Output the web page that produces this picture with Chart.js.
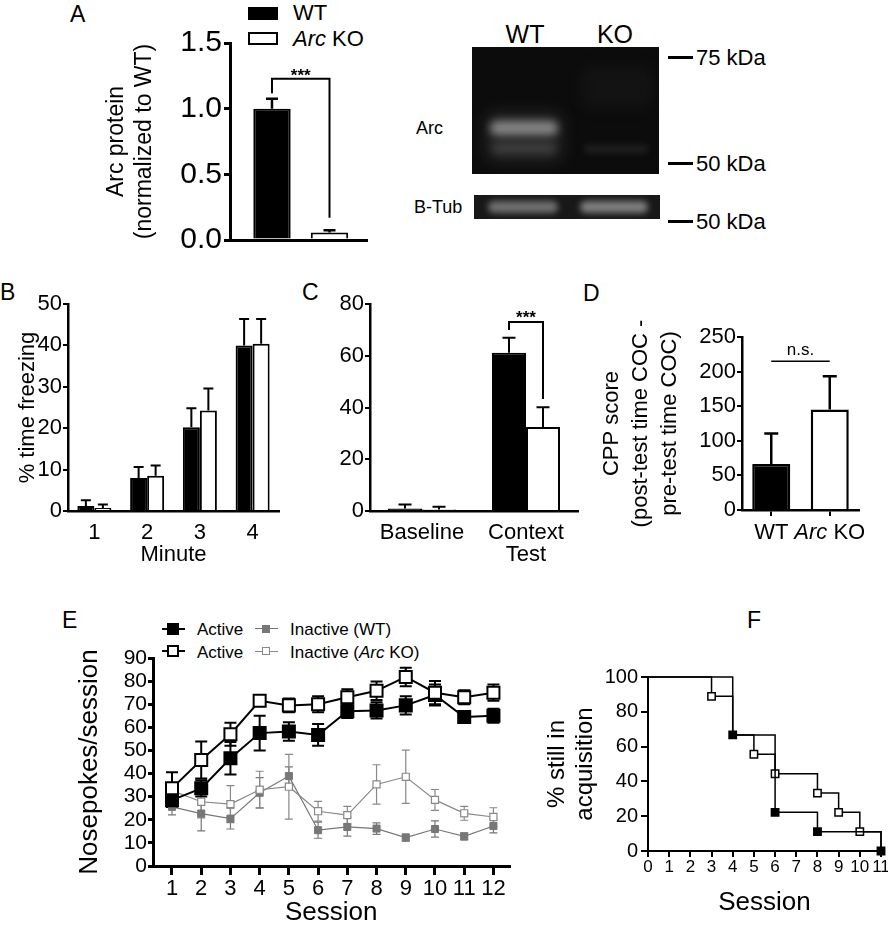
<!DOCTYPE html>
<html><head><meta charset="utf-8">
<script src="https://cdn.jsdelivr.net/npm/chart.js@4.4.1/dist/chart.umd.min.js"></script>
<style>
html,body{margin:0;padding:0;background:#fff;width:888px;height:926px;overflow:hidden;font-family:'Liberation Sans',Arial,sans-serif;}
#page{position:relative;width:888px;height:926px;overflow:hidden;}
canvas{position:absolute;}
.t{position:absolute;white-space:nowrap;color:#000;line-height:1;}
.c{transform:translate(-50%,-50%);}
.m{transform:translateY(-50%);}
.blot{position:absolute;overflow:hidden;}
.band{position:absolute;border-radius:8px;}
</style></head>
<body><div id="page">
<!-- panel letters -->
<div class="t" style="left:70px;top:3px;font-size:23px">A</div>
<div class="t" style="left:0px;top:281px;font-size:23px">B</div>
<div class="t" style="left:302px;top:281px;font-size:23px">C</div>
<div class="t" style="left:583px;top:282px;font-size:23px">D</div>
<div class="t" style="left:62px;top:609px;font-size:23px">E</div>
<div class="t" style="left:747px;top:609px;font-size:23px">F</div>

<!-- legend A -->
<div style="position:absolute;left:248px;top:7px;width:30px;height:13px;background:#000"></div>
<div style="position:absolute;left:248px;top:32px;width:26px;height:9px;border:2px solid #000;background:#fff"></div>
<div class="t m" style="left:293px;top:13px;font-size:22px">WT</div>
<div class="t m" style="left:293px;top:39px;font-size:22px"><i>Arc</i> KO</div>

<!-- western blot -->
<div class="t c" style="left:525px;top:34px;font-size:25px">WT</div>
<div class="t c" style="left:615px;top:34px;font-size:25px">KO</div>
<div class="blot" style="left:472px;top:47px;width:187px;height:127px;background:#0c0c0c">
  <div class="band" style="left:14px;top:66px;width:76px;height:48px;background:rgba(100,100,100,.3);filter:blur(8px)"></div>
  <div class="band" style="left:18px;top:74px;width:68px;height:14px;background:rgba(165,165,165,.75);filter:blur(4px)"></div>
  <div class="band" style="left:20px;top:97px;width:64px;height:9px;background:rgba(120,120,120,.35);filter:blur(4px)"></div>
  <div class="band" style="left:112px;top:98px;width:64px;height:8px;background:rgba(110,110,110,.2);filter:blur(3px)"></div>
  <div class="band" style="left:110px;top:20px;width:70px;height:40px;background:rgba(90,90,90,.1);filter:blur(8px)"></div>
</div>
<div class="blot" style="left:474px;top:195px;width:186px;height:24px;background:#181818">
  <div class="band" style="left:14px;top:6px;width:70px;height:12px;background:rgba(150,150,150,.7);filter:blur(3px)"></div>
  <div class="band" style="left:106px;top:6px;width:68px;height:12px;background:rgba(160,160,160,.75);filter:blur(3px)"></div>
</div>
<div class="t m" style="left:416px;top:128px;font-size:18px">Arc</div>
<div class="t m" style="left:414px;top:207px;font-size:18px">B-Tub</div>
<div style="position:absolute;left:668px;top:56px;width:25px;height:3px;background:#000"></div>
<div class="t m" style="left:696px;top:58px;font-size:22px">75 kDa</div>
<div style="position:absolute;left:668px;top:162px;width:25px;height:3px;background:#000"></div>
<div class="t m" style="left:696px;top:164px;font-size:22px">50 kDa</div>
<div style="position:absolute;left:668px;top:220px;width:25px;height:3px;background:#000"></div>
<div class="t m" style="left:696px;top:222px;font-size:22px">50 kDa</div>

<!-- legend E -->
<div style="position:absolute;left:162px;top:628px;width:23px;height:2px;background:#000"></div>
<div style="position:absolute;left:167px;top:623px;width:12px;height:12px;background:#000"></div>
<div class="t m" style="left:197px;top:629px;font-size:17px">Active</div>
<div style="position:absolute;left:162px;top:650px;width:23px;height:2px;background:#000"></div>
<div style="position:absolute;left:167px;top:645px;width:8px;height:8px;border:2px solid #000;background:#fff"></div>
<div class="t m" style="left:197px;top:652px;font-size:17px">Active</div>
<div style="position:absolute;left:255px;top:628px;width:23px;height:1px;background:#777"></div>
<div style="position:absolute;left:262px;top:625px;width:8px;height:8px;background:#777"></div>
<div class="t m" style="left:290px;top:629px;font-size:17px">Inactive (WT)</div>
<div style="position:absolute;left:255px;top:651px;width:23px;height:1px;background:#888"></div>
<div style="position:absolute;left:262px;top:647px;width:6px;height:6px;border:1px solid #888;background:#fff"></div>
<div class="t m" style="left:290px;top:652px;font-size:17px">Inactive (<i>Arc</i> KO)</div>

<canvas id="cA"></canvas><canvas id="cB"></canvas><canvas id="cC"></canvas>
<canvas id="cD"></canvas><canvas id="cE"></canvas><canvas id="cF"></canvas>
</div>
<script>
// ---------------- DATA ----------------
const aCats = ['WT', 'Arc KO'];
const aVals = [1.0, 0.057];
const aErr = [0.076, 0.018];

const bCats = ['1', '2', '3', '4'];
const bWT = [1.2, 8.0, 20.2, 40.0];
const bWTerr = [1.4, 2.6, 4.6, 6.4];
const bKO = [0.7, 8.5, 24.3, 40.4];
const bKOerr = [0.9, 2.5, 5.3, 6.0];

const cCats = ['Baseline', ['Context', 'Test']];
const cWT = [1.0, 61.2];
const cWTerr = [1.5, 5.8];
const cKO = [0.6, 32.5];
const cKOerr = [1.0, 7.6];

const dCats = ['WT', 'Arc KO'];
const dVals = [66.3, 145.2];
const dErr = [44.3, 48.0];

const eSessions = [1, 2, 3, 4, 5, 6, 7, 8, 9, 10, 11, 12];
const eActiveWT = [28.5, 33.6, 46.6, 57.5, 58.2, 56.7, 67.0, 67.3, 69.5, 74.0, 64.5, 65.0];
const eActiveWTerr = [3.0, 3.5, 7.0, 7.5, 4.0, 4.7, 3.0, 3.5, 4.0, 4.5, 2.5, 3.0];
const eActiveKO = [33.6, 45.9, 57.0, 71.5, 69.5, 70.0, 73.0, 75.8, 81.8, 75.0, 73.0, 75.0];
const eActiveKOerr = [7.0, 8.0, 5.0, 1.5, 3.0, 3.5, 3.5, 4.0, 4.0, 5.0, 3.0, 3.5];
const eInactiveWT = [25.6, 22.7, 20.5, 31.7, 38.9, 15.5, 16.9, 16.2, 12.3, 16.0, 12.8, 17.3];
const eInactiveWTerr = [3.5, 7.5, 4.5, 6.5, 4.0, 3.5, 4.0, 2.5, 1.5, 3.5, 1.5, 3.0];
const eInactiveKO = [32.6, 27.8, 26.8, 33.0, 34.3, 23.7, 22.0, 35.3, 38.6, 28.6, 22.8, 21.2];
const eInactiveKOerr = [2.5, 7.0, 8.0, 8.0, 14.0, 4.3, 3.8, 8.5, 11.5, 4.5, 3.0, 4.0];

const fWTsession = [0, 4, 6, 8, 11];
const fWTsurv = [100, 66.7, 22.2, 11.1, 0];
const fKOsession = [0, 3, 4, 5, 6, 8, 9, 10, 11];
const fKOsurv = [100, 88.9, 66.7, 55.6, 44.4, 33.3, 22.2, 11.1, 0];

// ---------------- HELPERS ----------------
Chart.defaults.font.family = "'Liberation Sans', Arial, sans-serif";
Chart.defaults.color = '#000';
Chart.defaults.animation = false;
Chart.defaults.events = [];
Chart.defaults.plugins.legend.display = false;
Chart.defaults.plugins.tooltip.enabled = false;

function mk(id, box, area, cfg) {
  const cv = document.getElementById(id);
  cv.width = box.w; cv.height = box.h;
  cv.style.left = box.l + 'px'; cv.style.top = box.t + 'px';
  cv.style.width = box.w + 'px'; cv.style.height = box.h + 'px';
  const o = cfg.options;
  o.responsive = false;
  o.maintainAspectRatio = false;
  o.devicePixelRatio = 1;
  o.layout = {padding: {top: area.t - box.t, right: box.l + box.w - area.r, left: 0, bottom: 0}};
  const yw = area.l - box.l, xh = box.t + box.h - area.b;
  o.scales.y.afterFit = s => { s.width = yw; };
  o.scales.x.afterFit = s => { s.height = xh; };
  ['x', 'y'].forEach(k => {
    o.scales[k].ticks = Object.assign({autoSkip: false, maxRotation: 0, minRotation: 0}, o.scales[k].ticks || {});
  });
  return new Chart(cv, cfg);
}

function errPlugin(sets, both, under) {
  function draw(chart) {
    const ctx = chart.ctx, ys = chart.scales.y;
    ctx.save();
    sets.forEach(s => {
      const meta = chart.getDatasetMeta(s.ds);
      const data = chart.data.datasets[s.ds].data;
      meta.data.forEach((el, j) => {
        const e = s.err[j]; if (e == null) return;
        const v = (typeof data[j] === 'object') ? data[j].y : data[j];
        const yt = ys.getPixelForValue(v + e);
        const yb = both ? ys.getPixelForValue(v - e) : ys.getPixelForValue(v);
        ctx.strokeStyle = s.color; ctx.lineWidth = s.width;
        ctx.beginPath();
        ctx.moveTo(el.x, yb); ctx.lineTo(el.x, yt);
        ctx.moveTo(el.x - s.cap / 2, yt); ctx.lineTo(el.x + s.cap / 2, yt);
        if (both) { ctx.moveTo(el.x - s.cap / 2, yb); ctx.lineTo(el.x + s.cap / 2, yb); }
        ctx.stroke();
      });
    });
    ctx.restore();
  }
  return {
    id: 'errbars',
    beforeDatasetsDraw(chart) { if (under) draw(chart); },
    afterDatasetsDraw(chart) { if (!under) draw(chart); }
  };
}

function bracketPlugin(p) {
  return {
    id: 'bracket',
    afterDatasetsDraw(chart) {
      const ctx = chart.ctx, ys = chart.scales.y;
      const xa = chart.getDatasetMeta(p.a[0]).data[p.a[1]].x;
      const xb = chart.getDatasetMeta(p.b[0]).data[p.b[1]].x;
      const yt = ys.getPixelForValue(p.top);
      ctx.save();
      ctx.strokeStyle = '#000'; ctx.lineWidth = p.lw || 2;
      ctx.beginPath();
      if (p.legA != null) { ctx.moveTo(xa, ys.getPixelForValue(p.legA)); }
      else ctx.moveTo(xa, yt);
      ctx.lineTo(xa, yt); ctx.lineTo(xb, yt);
      if (p.legB != null) ctx.lineTo(xb, ys.getPixelForValue(p.legB));
      ctx.stroke();
      ctx.fillStyle = '#000';
      ctx.font = p.font;
      ctx.textAlign = 'center'; ctx.textBaseline = 'alphabetic';
      ctx.fillText(p.text, (xa + xb) / 2, yt + p.dy);
      ctx.restore();
    }
  };
}

const yGrid = (lw, tl) => ({display: true, drawOnChartArea: false, drawTicks: true, tickLength: tl, color: '#000', lineWidth: lw});
const noGrid = {display: false, drawTicks: false};
const border = w => ({display: true, color: '#000', width: w});

// ---------------- PANEL A ----------------
mk('cA', {l: 95, t: 20, w: 285, h: 240}, {l: 230, t: 43, r: 367, b: 247}, {
  type: 'bar',
  data: {datasets: [{data: aVals.map((v, i) => ({x: i, y: v})), backgroundColor: ['#000', '#fff'], borderColor: '#000', borderWidth: 2, barPercentage: 0.65, categoryPercentage: 1}]},
  options: {
    scales: {
      x: {type: 'linear', offset: false, min: -0.73, max: 1.652, grid: noGrid, border: border(3), ticks: {display: false}},
      y: {min: 0, max: 1.5, grid: yGrid(3, 6), border: border(3),
          ticks: {stepSize: 0.5, font: {size: 30}, padding: 2, callback: v => v.toFixed(1)},
          title: {display: true, text: ['Arc protein', '(normalized to WT)'], font: {size: 23, lineHeight: 1.2}, padding: {top: 8, bottom: 0}}}
    }
  },
  plugins: [errPlugin([{ds: 0, err: aErr, color: '#000', width: 2.5, cap: 12}], false, false),
            bracketPlugin({a: [0, 0], b: [0, 1], top: 1.228, legA: 1.117, legB: 0.17, text: '***', font: 'bold 17px "Liberation Sans"', dy: 2})]
});

// ---------------- PANEL B ----------------
mk('cB', {l: 0, t: 285, w: 290, h: 290}, {l: 68, t: 304, r: 279, b: 511}, {
  type: 'bar',
  data: {labels: bCats, datasets: [
    {data: bWT, backgroundColor: '#000', borderColor: '#000', borderWidth: 2, barPercentage: 1, categoryPercentage: 0.645},
    {data: bKO, backgroundColor: '#fff', borderColor: '#000', borderWidth: 2, barPercentage: 1, categoryPercentage: 0.645}]},
  options: {
    scales: {
      x: {grid: noGrid, border: border(2.5), ticks: {font: {size: 22, lineHeight: 1}, padding: 11},
          title: {display: true, text: 'Minute', font: {size: 22, lineHeight: 1}, padding: {top: 0, bottom: 9}}},
      y: {min: 0, max: 50, grid: yGrid(2, 5), border: border(2.5),
          ticks: {stepSize: 10, font: {size: 22}, padding: 1},
          title: {display: true, text: '% time freezing', font: {size: 22, lineHeight: 1.2}, padding: {top: 15, bottom: 0}}}
    }
  },
  plugins: [errPlugin([{ds: 0, err: bWTerr, color: '#000', width: 2, cap: 10}, {ds: 1, err: bKOerr, color: '#000', width: 2, cap: 10}], false, false)]
});

// ---------------- PANEL C ----------------
mk('cC', {l: 300, t: 285, w: 290, h: 290}, {l: 370, t: 304, r: 578, b: 511}, {
  type: 'bar',
  data: {labels: cCats, datasets: [
    {data: cWT, backgroundColor: '#000', borderColor: '#000', borderWidth: 2, barPercentage: 1, categoryPercentage: 0.654},
    {data: cKO, backgroundColor: '#fff', borderColor: '#000', borderWidth: 2, barPercentage: 1, categoryPercentage: 0.654}]},
  options: {
    scales: {
      x: {grid: noGrid, border: border(2.5), ticks: {font: {size: 22, lineHeight: 1}, padding: 11}},
      y: {min: 0, max: 80, grid: yGrid(2, 5), border: border(2.5),
          ticks: {stepSize: 20, font: {size: 22}, padding: 1}}
    }
  },
  plugins: [errPlugin([{ds: 0, err: cWTerr, color: '#000', width: 2, cap: 13}, {ds: 1, err: cKOerr, color: '#000', width: 2, cap: 13}], false, false),
            bracketPlugin({a: [0, 1], b: [1, 1], top: 73, legA: 70, legB: 43.3, text: '***', font: 'bold 17px "Liberation Sans"', dy: 1})]
});

// ---------------- PANEL D ----------------
const dLabelPlugin = {
  id: 'dlabels',
  afterDraw(chart) {
    const ctx = chart.ctx, xs = chart.scales.x;
    const y = chart.chartArea.bottom + 23;
    ctx.save();
    ctx.fillStyle = '#000'; ctx.textBaseline = 'middle';
    const reg = '22px "Liberation Sans"', ita = 'italic 22px "Liberation Sans"';
    ctx.font = reg; ctx.textAlign = 'center';
    ctx.fillText(dCats[0], xs.getPixelForValue(0), y);
    const parts = dCats[1].split(' ');
    ctx.textAlign = 'left';
    ctx.font = ita; const w1 = ctx.measureText(parts[0]).width;
    ctx.font = reg; const w2 = ctx.measureText(' ' + parts[1]).width;
    let x = xs.getPixelForValue(1) - (w1 + w2) / 2;
    ctx.font = ita; ctx.fillText(parts[0], x, y);
    ctx.font = reg; ctx.fillText(' ' + parts[1], x + w1, y);
    ctx.restore();
  }
};
mk('cD', {l: 590, t: 300, w: 298, h: 275}, {l: 742, t: 337, r: 859, b: 510}, {
  type: 'bar',
  data: {labels: dCats, datasets: [{data: dVals, backgroundColor: ['#000', '#fff'], borderColor: '#000', borderWidth: 2.5, barPercentage: 0.65, categoryPercentage: 1}]},
  options: {
    scales: {
      x: {grid: {display: true, drawOnChartArea: false, drawTicks: true, tickLength: 6, color: '#000', lineWidth: 2, offset: false},
          border: border(2.5), ticks: {display: false}},
      y: {min: 0, max: 250, grid: yGrid(2, 5), border: border(2.5),
          ticks: {stepSize: 50, font: {size: 22}, padding: 1},
          title: {display: true, text: ['CPP score', '(post-test time COC -', 'pre-test time COC)'], font: {size: 22, lineHeight: 1.3}, padding: {top: 8, bottom: 0}}}
    }
  },
  plugins: [errPlugin([{ds: 0, err: dErr, color: '#000', width: 2.5, cap: 14}], false, false),
            bracketPlugin({a: [0, 0], b: [0, 1], top: 215, text: 'n.s.', font: '17px "Liberation Sans"', dy: -6, lw: 1.5}),
            dLabelPlugin]
});

// ---------------- PANEL E ----------------
const pts = (xs, ys) => xs.map((x, i) => ({x: x, y: ys[i]}));
mk('cE', {l: 60, t: 640, w: 460, h: 286}, {l: 153, t: 658, r: 510, b: 866}, {
  type: 'line',
  data: {datasets: [
    {data: pts(eSessions, eActiveKO), borderColor: '#000', borderWidth: 2, pointStyle: 'rect', pointRadius: 8.5, pointBorderWidth: 2, pointBackgroundColor: '#fff', pointBorderColor: '#000'},
    {data: pts(eSessions, eActiveWT), borderColor: '#000', borderWidth: 2, pointStyle: 'rect', pointRadius: 8.5, pointBorderWidth: 2, pointBackgroundColor: '#000', pointBorderColor: '#000'},
    {data: pts(eSessions, eInactiveKO), borderColor: '#888', borderWidth: 1.2, pointStyle: 'rect', pointRadius: 5, pointBorderWidth: 1.2, pointBackgroundColor: '#fff', pointBorderColor: '#888'},
    {data: pts(eSessions, eInactiveWT), borderColor: '#777', borderWidth: 1.2, pointStyle: 'rect', pointRadius: 5, pointBorderWidth: 1, pointBackgroundColor: '#777', pointBorderColor: '#777'}
  ]},
  options: {
    scales: {
      x: {type: 'linear', min: 0.35, max: 12.55,
          afterBuildTicks: s => { s.ticks = eSessions.map(v => ({value: v})); },
          grid: {display: true, drawOnChartArea: false, drawTicks: true, tickLength: 9, color: '#000', lineWidth: 3},
          border: border(3), ticks: {font: {size: 22, lineHeight: 1}, padding: 3},
          title: {display: true, text: 'Session', font: {size: 26, lineHeight: 1}, padding: {top: 0, bottom: 0}}},
      y: {min: 0, max: 90, grid: yGrid(3, 5), border: border(3),
          ticks: {stepSize: 10, font: {size: 21}, padding: 1},
          title: {display: true, text: 'Nosepokes/session', font: {size: 26, lineHeight: 1.2}, padding: {top: 14, bottom: 0}}}
    }
  },
  plugins: [errPlugin([
    {ds: 3, err: eInactiveWTerr, color: '#777', width: 1.2, cap: 8},
    {ds: 2, err: eInactiveKOerr, color: '#888', width: 1.2, cap: 8},
    {ds: 1, err: eActiveWTerr, color: '#000', width: 2, cap: 12},
    {ds: 0, err: eActiveKOerr, color: '#000', width: 2, cap: 12}], true, true)]
});

// ---------------- PANEL F ----------------
mk('cF', {l: 540, t: 660, w: 360, h: 266}, {l: 648, t: 677, r: 881, b: 851}, {
  type: 'line',
  data: {datasets: [
    {data: pts(fWTsession, fWTsurv), stepped: true, clip: false, borderColor: '#000', borderWidth: 1.5, pointStyle: 'rect',
     pointRadius: [0, 5.2, 5.2, 5.2, 5.2], pointBorderWidth: 1.5, pointBackgroundColor: '#000', pointBorderColor: '#000'},
    {data: pts(fKOsession, fKOsurv), stepped: true, clip: false, borderColor: '#000', borderWidth: 1.5, pointStyle: 'rect',
     pointRadius: [0, 5.2, 0, 5.2, 5.2, 5.2, 5.2, 5.2, 0], pointBorderWidth: 1.5, pointBackgroundColor: '#fff', pointBorderColor: '#000'}
  ]},
  options: {
    scales: {
      x: {type: 'linear', min: 0, max: 11,
          grid: {display: true, drawOnChartArea: false, drawTicks: true, tickLength: 6, color: '#000', lineWidth: 2},
          border: border(2), ticks: {stepSize: 1, font: {size: 17, lineHeight: 1}, padding: 2},
          title: {display: true, text: 'Session', font: {size: 26, lineHeight: 1}, padding: {top: 0, bottom: 10}}},
      y: {min: 0, max: 100, grid: yGrid(2, 7), border: border(2),
          ticks: {stepSize: 20, font: {size: 20}, padding: 3},
          title: {display: true, text: ['% still in', 'acquisition'], font: {size: 24, lineHeight: 1.15}, padding: {top: 4, bottom: 0}}}
    }
  }
});
</script>
</body></html>
